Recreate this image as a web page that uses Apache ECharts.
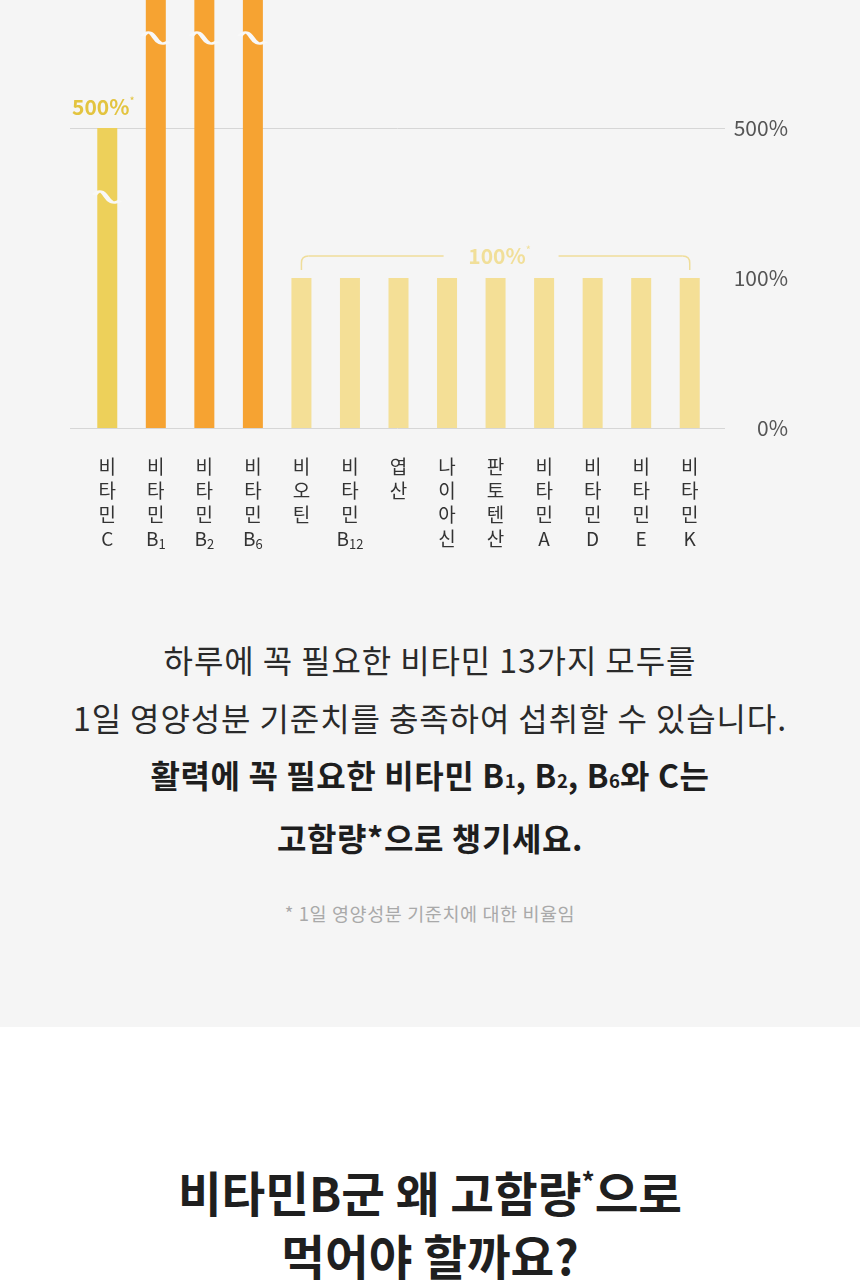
<!DOCTYPE html>
<html>
<head>
<meta charset="utf-8">
<script src="https://cdn.jsdelivr.net/npm/echarts@6/dist/echarts.min.js"></script>
<style>
  html, body { margin: 0; padding: 0; background: #ffffff; }
  body { width: 860px; height: 1280px; position: relative; overflow: hidden;
         font-family: "Noto Sans CJK KR", "Noto Sans", sans-serif; }
  #panel { position: absolute; left: 0; top: 0; width: 860px; height: 1027px; background: #f5f5f5; }
  #chart { position: absolute; left: 0; top: 0; width: 860px; height: 560px; }
  .txt { position: absolute; left: 0; width: 860px; text-align: center; }
  .lead { top: 631px; font-size: 32px; line-height: 57.5px; letter-spacing: 0.9px; color: #2a2a2a; }
  .lead b { font-weight: 700; color: #1e1e1e; letter-spacing: 0.6px; }
  .sub { font-size: 0.58em; letter-spacing: 0; }
  .note { top: 901px; font-size: 18.5px; line-height: 24px; letter-spacing: 0.6px; color: #a9a9a9; }
  .title { top: 1150px; font-size: 47.5px; line-height: 63px; font-weight: 700; color: #1f1f1f; }
  .sup { font-size: 0.55em; vertical-align: 0.75em; }
</style>
</head>
<body>
<div id="panel"></div>
<div id="chart"></div>
<div class="txt lead">하루에 꼭 필요한 비타민 13가지 모두를<br>1일 영양성분 기준치를 충족하여 섭취할 수 있습니다.<br><b>활력에 꼭 필요한 비타민 B<span class="sub">1</span>, B<span class="sub">2</span>, B<span class="sub">6</span>와 C는<br>고함량*으로 챙기세요.</b></div>
<div class="txt note">* 1일 영양성분 기준치에 대한 비율임</div>
<div class="txt title">비타민B군 왜 고함량<span class="sup">*</span>으로<br>먹어야 할까요?</div>
<script>
// ---- data ----
const categories = ['비타민C', '비타민B1', '비타민B2', '비타민B6', '비오틴', '비타민B12', '엽산', '나이아신', '판토텐산', '비타민A', '비타민D', '비타민E', '비타민K'];
const values = [500, 1000, 1000, 1000, 100, 100, 100, 100, 100, 100, 100, 100, 100];
const yTicks = [0, 100, 500];
const highDose = ['비타민B1', '비타민B2', '비타민B6'];
const vitaminC = ['비타민C'];
const breakMarks = [['비타민C', 316], ['비타민B1', 560], ['비타민B2', 560], ['비타민B6', 560]];
const bracketFrom = '비오틴';
const bracketTo = '비타민K';

// ---- styles ----
const FONT = '"Noto Sans CJK KR", "Noto Sans", sans-serif';
const colorC = '#edd05a';
const colorB = '#f6a332';
const colorBase = '#f4df96';
const axisBreak = { start: yTicks[1], end: yTicks[2], gap: yTicks[1] };

function vertLabel(name) {
  const m = name.match(/^([가-힣]+)([A-Z]?)(\d*)$/);
  const lines = m[1].split('').map(c => '{k|' + c + '}');
  if (m[2]) lines.push('{k|' + m[2] + '}' + (m[3] ? '{s|' + m[3] + '}' : ''));
  return lines.join('\n');
}

const yBase = {
  type: 'value', min: yTicks[0], max: yTicks[2], interval: yTicks[1],
  breaks: [axisBreak], breakArea: { show: false },
  axisLine: { show: false }, axisTick: { show: false }
};

const chart = echarts.init(document.getElementById('chart'), null, { renderer: 'canvas' });
chart.setOption({
  animation: false,
  backgroundColor: 'transparent',
  grid: [
    { left: 83, right: 146, top: 128, bottom: 132 },
    { left: 70, right: 135, top: 128, bottom: 132 }
  ],
  xAxis: [
    { gridIndex: 0, type: 'category', data: categories,
      axisLine: { show: false }, axisTick: { show: false },
      axisLabel: { interval: 0, margin: 27, formatter: vertLabel,
        rich: {
          k: { fontSize: 19, lineHeight: 24, color: '#333', fontFamily: FONT },
          s: { fontSize: 13, lineHeight: 19, color: '#333', verticalAlign: 'bottom', fontFamily: FONT }
        } } },
    { gridIndex: 1, type: 'category', data: categories, show: false }
  ],
  yAxis: [
    Object.assign({}, yBase, { gridIndex: 0, axisLabel: { show: false }, splitLine: { show: false } }),
    Object.assign({}, yBase, { gridIndex: 1, position: 'right',
      axisLabel: { formatter: v => v + '%', align: 'right', margin: 63, fontSize: 21, color: '#555', fontFamily: FONT },
      splitLine: { show: true, lineStyle: { color: '#d6d6d6', width: 1 } } })
  ],
  series: [
    { type: 'bar', xAxisIndex: 0, yAxisIndex: 0, barWidth: 20, clip: false, silent: true,
      data: values.map((v, i) => {
        const name = categories[i];
        const item = { value: v, itemStyle: { color: highDose.includes(name) ? colorB : (vitaminC.includes(name) ? colorC : colorBase) } };
        if (vitaminC.includes(name)) {
          item.label = { show: true, position: 'top', distance: 9, offset: [-4, 0],
            formatter: p => '{v|' + p.value + '%}{s|*}',
            rich: {
              v: { fontSize: 21, fontWeight: 'bold', color: '#e3c440', lineHeight: 24, fontFamily: FONT },
              s: { fontSize: 11, color: '#e3c440', lineHeight: 11, verticalAlign: 'top', fontFamily: FONT }
            } };
        }
        return item;
      }) },
    { type: 'scatter', xAxisIndex: 0, yAxisIndex: 0, clip: false, silent: true, z: 5,
      symbol: 'path://M0,3 C4,-1 7,0 10,4 S16,10 22,7',
      symbolSize: [26, 11],
      itemStyle: { color: 'rgba(0,0,0,0)', borderColor: '#f8f8f8', borderWidth: 3.5, opacity: 1 },
      data: breakMarks.map(d => [d[0], d[1]]) }
  ]
});

// bracket over the 100% group, positioned through the chart's scales
(function () {
  const i0 = categories.indexOf(bracketFrom), i1 = categories.indexOf(bracketTo);
  const pA = chart.convertToPixel({ seriesIndex: 0 }, [i0, values[i0]]);
  const pB = chart.convertToPixel({ seriesIndex: 0 }, [i1, values[i1]]);
  const L = pA[0], R = pB[0], yT = pA[1] - 22, yB = pA[1] - 8, r = 7;
  const mid = (L + R) / 2;
  const gL = mid - 52, gR = mid + 63;
  const ls = { stroke: '#efdd9a', lineWidth: 1.5, fill: null };
  chart.setOption({
    graphic: [
      { type: 'line', silent: true, shape: { x1: L, y1: yB, x2: L, y2: yT + r }, style: ls },
      { type: 'bezierCurve', silent: true, shape: { x1: L, y1: yT + r, x2: L + r, y2: yT, cpx1: L, cpy1: yT }, style: ls },
      { type: 'line', silent: true, shape: { x1: L + r, y1: yT, x2: gL, y2: yT }, style: ls },
      { type: 'line', silent: true, shape: { x1: gR, y1: yT, x2: R - r, y2: yT }, style: ls },
      { type: 'bezierCurve', silent: true, shape: { x1: R - r, y1: yT, x2: R, y2: yT + r, cpx1: R, cpy1: yT }, style: ls },
      { type: 'line', silent: true, shape: { x1: R, y1: yT + r, x2: R, y2: yB }, style: ls },
      { type: 'text', x: mid + 4, y: yT, silent: true,
        style: { text: '{v|' + values[i0] + '%}{s|*}', align: 'center', verticalAlign: 'middle',
          rich: {
            v: { fontSize: 21, fontWeight: 'bold', fill: '#f1df99', lineHeight: 24, fontFamily: FONT },
            s: { fontSize: 11, fill: '#f1df99', lineHeight: 11, verticalAlign: 'top', fontFamily: FONT }
          } } }
    ]
  });
})();
</script>
</body>
</html>
